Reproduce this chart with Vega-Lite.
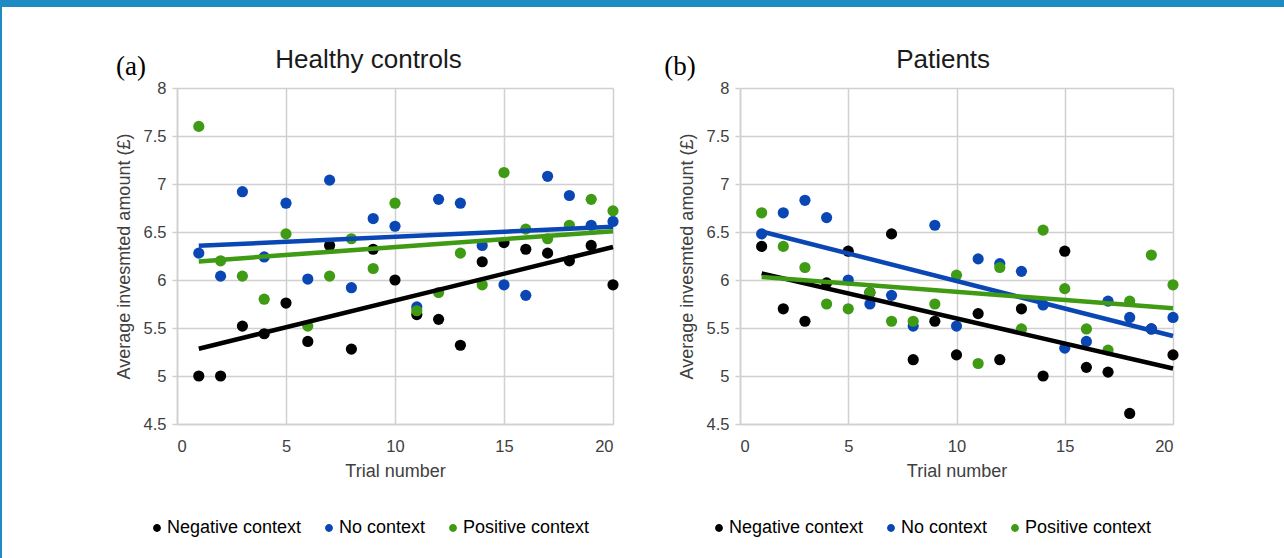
{
  "$schema": "https://vega.github.io/schema/vega-lite/v6.json",
  "padding": 0,
  "background": "white",
  "spacing": 0,
  "datasets": {
    "invest": [
      {"group":"Healthy controls","context":"Negative context","trial":1,"amount":5.0},
      {"group":"Healthy controls","context":"Negative context","trial":2,"amount":5.0},
      {"group":"Healthy controls","context":"Negative context","trial":3,"amount":5.52},
      {"group":"Healthy controls","context":"Negative context","trial":4,"amount":5.44},
      {"group":"Healthy controls","context":"Negative context","trial":5,"amount":5.76},
      {"group":"Healthy controls","context":"Negative context","trial":6,"amount":5.36},
      {"group":"Healthy controls","context":"Negative context","trial":7,"amount":6.36},
      {"group":"Healthy controls","context":"Negative context","trial":8,"amount":5.28},
      {"group":"Healthy controls","context":"Negative context","trial":9,"amount":6.32},
      {"group":"Healthy controls","context":"Negative context","trial":10,"amount":6.0},
      {"group":"Healthy controls","context":"Negative context","trial":11,"amount":5.64},
      {"group":"Healthy controls","context":"Negative context","trial":12,"amount":5.59},
      {"group":"Healthy controls","context":"Negative context","trial":13,"amount":5.32},
      {"group":"Healthy controls","context":"Negative context","trial":14,"amount":6.19},
      {"group":"Healthy controls","context":"Negative context","trial":15,"amount":6.39},
      {"group":"Healthy controls","context":"Negative context","trial":16,"amount":6.32},
      {"group":"Healthy controls","context":"Negative context","trial":17,"amount":6.28},
      {"group":"Healthy controls","context":"Negative context","trial":18,"amount":6.2},
      {"group":"Healthy controls","context":"Negative context","trial":19,"amount":6.36},
      {"group":"Healthy controls","context":"Negative context","trial":20,"amount":5.95},
      {"group":"Healthy controls","context":"No context","trial":1,"amount":6.28},
      {"group":"Healthy controls","context":"No context","trial":2,"amount":6.04},
      {"group":"Healthy controls","context":"No context","trial":3,"amount":6.92},
      {"group":"Healthy controls","context":"No context","trial":4,"amount":6.24},
      {"group":"Healthy controls","context":"No context","trial":5,"amount":6.8},
      {"group":"Healthy controls","context":"No context","trial":6,"amount":6.01},
      {"group":"Healthy controls","context":"No context","trial":7,"amount":7.04},
      {"group":"Healthy controls","context":"No context","trial":8,"amount":5.92},
      {"group":"Healthy controls","context":"No context","trial":9,"amount":6.64},
      {"group":"Healthy controls","context":"No context","trial":10,"amount":6.56},
      {"group":"Healthy controls","context":"No context","trial":11,"amount":5.72},
      {"group":"Healthy controls","context":"No context","trial":12,"amount":6.84},
      {"group":"Healthy controls","context":"No context","trial":13,"amount":6.8},
      {"group":"Healthy controls","context":"No context","trial":14,"amount":6.36},
      {"group":"Healthy controls","context":"No context","trial":15,"amount":5.95},
      {"group":"Healthy controls","context":"No context","trial":16,"amount":5.84},
      {"group":"Healthy controls","context":"No context","trial":17,"amount":7.08},
      {"group":"Healthy controls","context":"No context","trial":18,"amount":6.88},
      {"group":"Healthy controls","context":"No context","trial":19,"amount":6.57},
      {"group":"Healthy controls","context":"No context","trial":20,"amount":6.61},
      {"group":"Healthy controls","context":"Positive context","trial":1,"amount":7.6},
      {"group":"Healthy controls","context":"Positive context","trial":2,"amount":6.2},
      {"group":"Healthy controls","context":"Positive context","trial":3,"amount":6.04},
      {"group":"Healthy controls","context":"Positive context","trial":4,"amount":5.8},
      {"group":"Healthy controls","context":"Positive context","trial":5,"amount":6.48},
      {"group":"Healthy controls","context":"Positive context","trial":6,"amount":5.52},
      {"group":"Healthy controls","context":"Positive context","trial":7,"amount":6.04},
      {"group":"Healthy controls","context":"Positive context","trial":8,"amount":6.43},
      {"group":"Healthy controls","context":"Positive context","trial":9,"amount":6.12},
      {"group":"Healthy controls","context":"Positive context","trial":10,"amount":6.8},
      {"group":"Healthy controls","context":"Positive context","trial":11,"amount":5.68},
      {"group":"Healthy controls","context":"Positive context","trial":12,"amount":5.87},
      {"group":"Healthy controls","context":"Positive context","trial":13,"amount":6.28},
      {"group":"Healthy controls","context":"Positive context","trial":14,"amount":5.95},
      {"group":"Healthy controls","context":"Positive context","trial":15,"amount":7.12},
      {"group":"Healthy controls","context":"Positive context","trial":16,"amount":6.53},
      {"group":"Healthy controls","context":"Positive context","trial":17,"amount":6.43},
      {"group":"Healthy controls","context":"Positive context","trial":18,"amount":6.57},
      {"group":"Healthy controls","context":"Positive context","trial":19,"amount":6.84},
      {"group":"Healthy controls","context":"Positive context","trial":20,"amount":6.72},
      {"group":"Patients","context":"Negative context","trial":1,"amount":6.35},
      {"group":"Patients","context":"Negative context","trial":2,"amount":5.7},
      {"group":"Patients","context":"Negative context","trial":3,"amount":5.57},
      {"group":"Patients","context":"Negative context","trial":4,"amount":5.97},
      {"group":"Patients","context":"Negative context","trial":5,"amount":6.3},
      {"group":"Patients","context":"Negative context","trial":6,"amount":5.87},
      {"group":"Patients","context":"Negative context","trial":7,"amount":6.48},
      {"group":"Patients","context":"Negative context","trial":8,"amount":5.17},
      {"group":"Patients","context":"Negative context","trial":9,"amount":5.57},
      {"group":"Patients","context":"Negative context","trial":10,"amount":5.22},
      {"group":"Patients","context":"Negative context","trial":11,"amount":5.65},
      {"group":"Patients","context":"Negative context","trial":12,"amount":5.17},
      {"group":"Patients","context":"Negative context","trial":13,"amount":5.7},
      {"group":"Patients","context":"Negative context","trial":14,"amount":5.0},
      {"group":"Patients","context":"Negative context","trial":15,"amount":6.3},
      {"group":"Patients","context":"Negative context","trial":16,"amount":5.09},
      {"group":"Patients","context":"Negative context","trial":17,"amount":5.04},
      {"group":"Patients","context":"Negative context","trial":18,"amount":4.61},
      {"group":"Patients","context":"Negative context","trial":19,"amount":5.49},
      {"group":"Patients","context":"Negative context","trial":20,"amount":5.22},
      {"group":"Patients","context":"No context","trial":1,"amount":6.48},
      {"group":"Patients","context":"No context","trial":2,"amount":6.7},
      {"group":"Patients","context":"No context","trial":3,"amount":6.83},
      {"group":"Patients","context":"No context","trial":4,"amount":6.65},
      {"group":"Patients","context":"No context","trial":5,"amount":6.0},
      {"group":"Patients","context":"No context","trial":6,"amount":5.75},
      {"group":"Patients","context":"No context","trial":7,"amount":5.84},
      {"group":"Patients","context":"No context","trial":8,"amount":5.52},
      {"group":"Patients","context":"No context","trial":9,"amount":6.57},
      {"group":"Patients","context":"No context","trial":10,"amount":5.52},
      {"group":"Patients","context":"No context","trial":11,"amount":6.22},
      {"group":"Patients","context":"No context","trial":12,"amount":6.17},
      {"group":"Patients","context":"No context","trial":13,"amount":6.09},
      {"group":"Patients","context":"No context","trial":14,"amount":5.74},
      {"group":"Patients","context":"No context","trial":15,"amount":5.29},
      {"group":"Patients","context":"No context","trial":16,"amount":5.36},
      {"group":"Patients","context":"No context","trial":17,"amount":5.78},
      {"group":"Patients","context":"No context","trial":18,"amount":5.61},
      {"group":"Patients","context":"No context","trial":19,"amount":5.49},
      {"group":"Patients","context":"No context","trial":20,"amount":5.61},
      {"group":"Patients","context":"Positive context","trial":1,"amount":6.7},
      {"group":"Patients","context":"Positive context","trial":2,"amount":6.35},
      {"group":"Patients","context":"Positive context","trial":3,"amount":6.13},
      {"group":"Patients","context":"Positive context","trial":4,"amount":5.75},
      {"group":"Patients","context":"Positive context","trial":5,"amount":5.7},
      {"group":"Patients","context":"Positive context","trial":6,"amount":5.87},
      {"group":"Patients","context":"Positive context","trial":7,"amount":5.57},
      {"group":"Patients","context":"Positive context","trial":8,"amount":5.57},
      {"group":"Patients","context":"Positive context","trial":9,"amount":5.75},
      {"group":"Patients","context":"Positive context","trial":10,"amount":6.05},
      {"group":"Patients","context":"Positive context","trial":11,"amount":5.13},
      {"group":"Patients","context":"Positive context","trial":12,"amount":6.13},
      {"group":"Patients","context":"Positive context","trial":13,"amount":5.49},
      {"group":"Patients","context":"Positive context","trial":14,"amount":6.52},
      {"group":"Patients","context":"Positive context","trial":15,"amount":5.91},
      {"group":"Patients","context":"Positive context","trial":16,"amount":5.49},
      {"group":"Patients","context":"Positive context","trial":17,"amount":5.27},
      {"group":"Patients","context":"Positive context","trial":18,"amount":5.78},
      {"group":"Patients","context":"Positive context","trial":19,"amount":6.26},
      {"group":"Patients","context":"Positive context","trial":20,"amount":5.95}
    ]
  },
  "hconcat": [
    {
      "width": 2, "height": 558,
      "data": {"values": [{}]},
      "mark": {"type": "point", "opacity": 0, "size": 1},
      "encoding": {},
      "view": {"fill": "#1e8bc3", "stroke": null}
    },
    {
      "spacing": 40,
      "vconcat": [
        {
          "width": 1282, "height": 7,
          "data": {"values": [{}]},
          "mark": {"type": "point", "opacity": 0, "size": 1},
          "encoding": {},
          "view": {"fill": "#1e8bc3", "stroke": null}
        },
        {
          "spacing": 112,
          "hconcat": [
            {
              "width": 1, "height": 1,
              "data": {"values": [{}]},
              "mark": {"type": "point", "opacity": 0, "size": 1},
              "encoding": {}
            },
            {
              "spacing": 42,
              "resolve": {"scale": {"color": "independent"}, "legend": {"color": "independent"}},
              "hconcat": [
                {
                  "width": 436, "height": 336,
                  "title": {"text": "Healthy controls", "frame": "bounds", "anchor": "middle"},
                  "layer": [
                    {
                      "data": {"name": "invest"},
                      "transform": [{"filter": "datum.group === 'Healthy controls'"}],
                      "mark": {"type": "circle", "size": 125, "opacity": 1},
                      "encoding": {
                        "x": {"field": "trial", "type": "quantitative", "scale": {"domain": [0, 20]}, "axis": {"title": "Trial number", "values": [0, 5, 10, 15, 20]}},
                        "y": {"field": "amount", "type": "quantitative", "scale": {"domain": [4.5, 8]}, "axis": {"title": "Average invesmted amount (£)", "values": [4.5, 5, 5.5, 6, 6.5, 7, 7.5, 8], "format": "~g"}},
                        "color": {"field": "context", "type": "nominal", "scale": {"domain": ["Negative context", "No context", "Positive context"], "range": ["#000000", "#0a47b5", "#3f9a14"]}, "legend": {"orient": "none", "legendX": -29, "legendY": 431, "direction": "horizontal", "title": null}}
                      }
                    },
                    {
                      "data": {"name": "invest"},
                      "transform": [{"filter": "datum.group === 'Healthy controls'"}, {"regression": "amount", "on": "trial", "groupby": ["context"], "extent": [1, 20]}],
                      "mark": {"type": "line", "strokeWidth": 4.5},
                      "encoding": {
                        "x": {"field": "trial", "type": "quantitative"},
                        "y": {"field": "amount", "type": "quantitative"},
                        "color": {"field": "context", "type": "nominal", "legend": null}
                      }
                    },
                    {
                      "data": {"values": [{}]},
                      "mark": {"type": "text", "text": "(a)", "font": "Liberation Serif", "fontSize": 27, "align": "left", "baseline": "middle", "color": "#000000"},
                      "encoding": {"x": {"datum": -2.8, "type": "quantitative"}, "y": {"datum": 8.22, "type": "quantitative"}}
                    }
                  ]
                },
                {
                  "width": 433, "height": 336,
                  "title": {"text": "Patients", "frame": "bounds", "anchor": "middle", "dx": 20},
                  "layer": [
                    {
                      "data": {"name": "invest"},
                      "transform": [{"filter": "datum.group === 'Patients'"}],
                      "mark": {"type": "circle", "size": 125, "opacity": 1},
                      "encoding": {
                        "x": {"field": "trial", "type": "quantitative", "scale": {"domain": [0, 20]}, "axis": {"title": "Trial number", "values": [0, 5, 10, 15, 20]}},
                        "y": {"field": "amount", "type": "quantitative", "scale": {"domain": [4.5, 8]}, "axis": {"title": "Average invesmted amount (£)", "values": [4.5, 5, 5.5, 6, 6.5, 7, 7.5, 8], "format": "~g"}},
                        "color": {"field": "context", "type": "nominal", "scale": {"domain": ["Negative context", "No context", "Positive context"], "range": ["#000000", "#0a47b5", "#3f9a14"]}, "legend": {"orient": "none", "legendX": -30, "legendY": 431, "direction": "horizontal", "title": null}}
                      }
                    },
                    {
                      "data": {"name": "invest"},
                      "transform": [{"filter": "datum.group === 'Patients'"}, {"regression": "amount", "on": "trial", "groupby": ["context"], "extent": [1, 20]}],
                      "mark": {"type": "line", "strokeWidth": 4.5},
                      "encoding": {
                        "x": {"field": "trial", "type": "quantitative"},
                        "y": {"field": "amount", "type": "quantitative"},
                        "color": {"field": "context", "type": "nominal", "legend": null}
                      }
                    },
                    {
                      "data": {"values": [{}]},
                      "mark": {"type": "text", "text": "(b)", "font": "Liberation Serif", "fontSize": 27, "align": "left", "baseline": "middle", "color": "#000000"},
                      "encoding": {"x": {"datum": -3.5, "type": "quantitative"}, "y": {"datum": 8.22, "type": "quantitative"}}
                    }
                  ]
                }
              ]
            }
          ]
        }
      ]
    }
  ],
  "config": {
    "view": {"stroke": null},
    "font": "Liberation Sans",
    "title": {"font": "Liberation Sans", "fontSize": 26, "fontWeight": "normal", "color": "#1a1a1a", "offset": -20.5},
    "axis": {
      "grid": true, "gridColor": "#d0d0d0", "gridWidth": 1.5,
      "domainColor": "#d0d0d0", "domainWidth": 1.5,
      "tickColor": "#d0d0d0", "tickWidth": 1.5,
      "labelFont": "Liberation Sans", "labelFontSize": 16.5, "labelColor": "#404040",
      "titleFont": "Liberation Sans", "titleFontSize": 18, "titleFontWeight": "normal", "titleColor": "#404040"
    },
    "axisX": {"ticks": false, "tickSize": 0, "labelPadding": 14, "titlePadding": 8},
    "axisY": {"tickSize": 5, "labelPadding": 6, "titlePadding": 10},
    "legend": {"labelFont": "Liberation Sans", "labelFontSize": 18, "labelColor": "#000000", "symbolType": "circle", "symbolSize": 40, "columnPadding": 18, "labelOffset": 1}
  }
}
